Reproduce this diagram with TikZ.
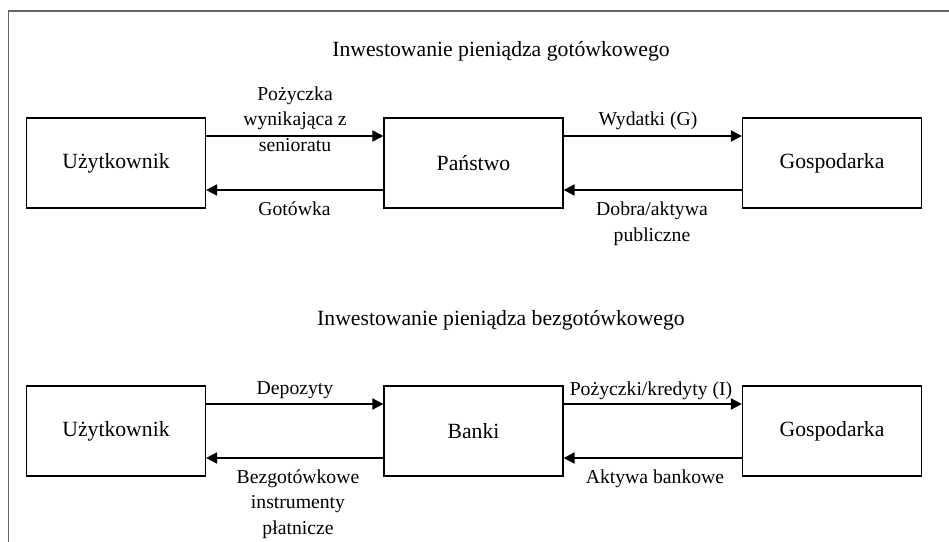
\documentclass[tikz,border=0pt]{standalone}
\usepackage{fontspec}
\setmainfont{Liberation Serif}
\usetikzlibrary{arrows.meta}
\newcommand{\labtop}{\rule{0pt}{15pt}}
\begin{document}
\begin{tikzpicture}[x=1pt,y=-1pt,
  boxnode/.style={draw,line width=1.2pt,minimum width=179pt,minimum height=90pt,
    inner sep=0pt,font=\fontsize{21.7}{26}\selectfont},
  flow/.style={line width=2pt,-{Triangle[length=11pt,width=11pt]}},
  lbl/.style={inner sep=0pt,anchor=north,align=center,
    font=\fontsize{19.7}{25.5}\selectfont},
  ttl/.style={inner sep=0pt,anchor=base,font=\fontsize{21.7}{26}\selectfont},
  frameline/.style={draw=black!60,line width=1.2pt}]
\useasboundingbox (0,0) rectangle (949,541);
\begin{scope}
\clip (0,0) rectangle (949,541);
\coordinate (fbl) at (8.5,560);
\coordinate (ftl) at (8.5,11);
\coordinate (ftr) at (960,11);
\draw[frameline] (fbl) -- (ftl) -- (ftr);
\end{scope}

% titles
\node[ttl] (t1) at (501,56) {Inwestowanie pieniądza gotówkowego};
\node[ttl] (t2) at (501,325) {Inwestowanie pieniądza bezgotówkowego};

% cash row
\node[boxnode] (u1) at (116,163) {Użytkownik};
\node[boxnode] (p1) at (473.5,163) {Państwo};
\node[boxnode] (g1) at (832,163) {Gospodarka};

\draw[flow] ([yshift=27pt]u1.east) -- ([yshift=27pt]p1.west);
\draw[flow] ([yshift=-27pt]p1.west) -- ([yshift=-27pt]u1.east);
\draw[flow] ([yshift=27pt]p1.east) -- ([yshift=27pt]g1.west);
\draw[flow] ([yshift=-27pt]g1.west) -- ([yshift=-27pt]p1.east);

\node[lbl] (l1) at (295,85) {\labtop Pożyczka\\wynikająca z\\senioratu};
\node[lbl] (l2) at (294.5,200) {\labtop Gotówka};
\node[lbl] (l3) at (648,110) {\labtop Wydatki (G)};
\node[lbl] (l4) at (652,200.5) {\labtop Dobra/aktywa\\publiczne};

% non-cash row
\node[boxnode] (u2) at (116,431) {Użytkownik};
\node[boxnode] (b2) at (473.5,431) {Banki};
\node[boxnode] (g2) at (832,431) {Gospodarka};

\draw[flow] ([yshift=27pt]u2.east) -- ([yshift=27pt]b2.west);
\draw[flow] ([yshift=-27pt]b2.west) -- ([yshift=-27pt]u2.east);
\draw[flow] ([yshift=27pt]b2.east) -- ([yshift=27pt]g2.west);
\draw[flow] ([yshift=-27pt]g2.west) -- ([yshift=-27pt]b2.east);

\node[lbl] (l5) at (295,379.5) {\labtop Depozyty};
\node[lbl] (l6) at (298,468) {\labtop Bezgotówkowe\\instrumenty\\płatnicze};
\node[lbl] (l7) at (651,380) {\labtop Pożyczki/kredyty (I)};
\node[lbl] (l8) at (655,468) {\labtop Aktywa bankowe};
\end{tikzpicture}
\end{document}
